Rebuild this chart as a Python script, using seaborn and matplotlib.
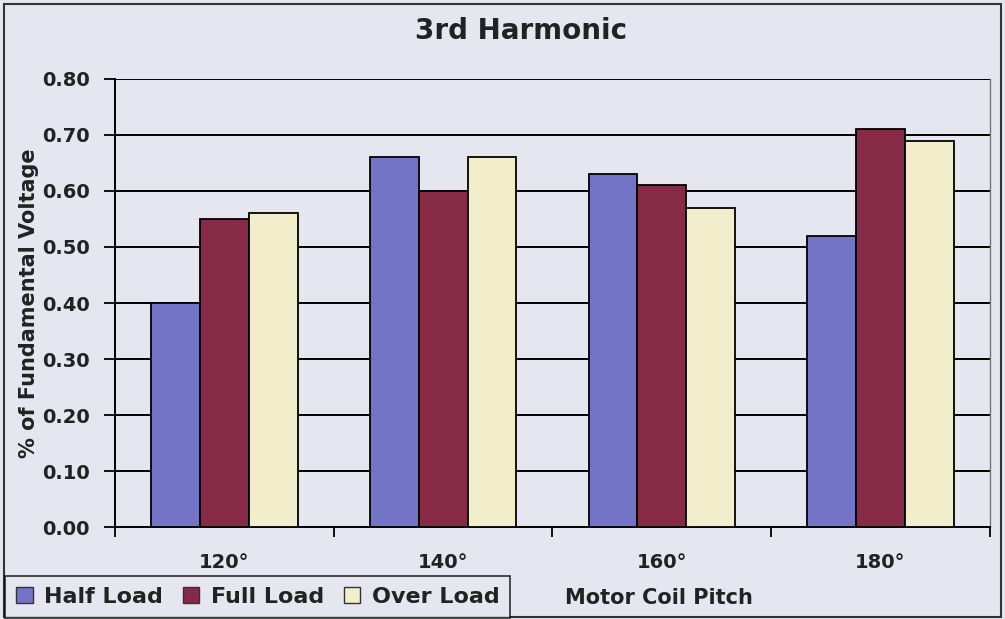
import matplotlib
matplotlib.use("Agg")
import matplotlib.pyplot as plt
import seaborn as sns
import pandas as pd
import numpy as np
from matplotlib.patches import Rectangle

# Coil pitch categories and 3rd harmonic content per load condition
pitches = ["120°", "140°", "160°", "180°"]
half_load = [0.40, 0.66, 0.63, 0.52]
full_load = [0.55, 0.60, 0.61, 0.71]
over_load = [0.56, 0.66, 0.57, 0.69]
series_names = ["Half Load", "Full Load", "Over Load"]
y_ticks = [0.0, 0.1, 0.2, 0.3, 0.4, 0.5, 0.6, 0.7, 0.8]

df = pd.DataFrame({
    "pitch": pitches * 3,
    "value": half_load + full_load + over_load,
    "load": [n for n in series_names for _ in pitches],
})

bg = "#E6E6F1"
ink = "#222222"
colors = ["#7474C6", "#862A48", "#F2EDCB"]

sns.set_theme(style="white")
plt.rcParams["font.family"] = ["DejaVu Sans"]

fig = plt.figure(figsize=(10.05, 6.19), dpi=100, facecolor=bg)
ax = fig.add_axes([0.1144, 0.1486, 0.8706, 0.7238])
ax.set_facecolor(bg)

sns.barplot(data=df, x="pitch", y="value", hue="load", order=pitches,
            hue_order=series_names, palette=colors, width=0.67, gap=0,
            edgecolor="black", linewidth=1.3, saturation=1, ax=ax,
            legend=False, zorder=3)

ax.set_ylim(0, 0.8)
ax.set_xlim(-0.5, 3.5)
ax.set_yticks(y_ticks)
ax.set_yticklabels([f"{v:.2f}" for v in y_ticks], fontsize=14, fontweight="bold",
                   color=ink)
ax.yaxis.grid(True, color="black", linewidth=1.4, zorder=0)
ax.set_axisbelow(True)

# category labels centred, tick marks on the category boundaries
ax.set_xticks(range(len(pitches)))
ax.set_xticklabels(pitches, fontsize=14, fontweight="bold", color=ink)
ax.set_xticks(np.arange(-0.5, len(pitches), 1.0), minor=True)
ax.tick_params(axis="x", which="major", length=0, pad=19)
ax.tick_params(axis="x", which="minor", length=7, width=1.3, color="black",
               direction="out", bottom=True)
ax.tick_params(axis="y", length=8, width=1.3, color="black", direction="out",
               left=True, pad=10)

for side in ["left", "bottom"]:
    ax.spines[side].set_color("black")
    ax.spines[side].set_linewidth(1.4)
ax.spines["top"].set_visible(False)
ax.spines["right"].set_color("#777777")
ax.spines["right"].set_linewidth(1.0)

ax.set_xlabel("")
ax.set_ylabel("% of Fundamental Voltage", fontsize=15, fontweight="bold", color=ink)
ax.yaxis.set_label_coords(-0.087, 0.5)

fig.text(0.518, 0.95, "3rd Harmonic", ha="center", va="center",
         fontsize=20, fontweight="bold", color=ink)
fig.text(0.656, 0.034, "Motor Coil Pitch", ha="center", va="center",
         fontsize=15, fontweight="bold", color=ink)

handles = [Rectangle((0, 0), 1, 1, facecolor=c, edgecolor="#333333", linewidth=1)
           for c in colors]
leg = fig.legend(handles, series_names, loc="lower left",
                 bbox_to_anchor=(0.005, 0.002), borderaxespad=0, ncol=3,
                 frameon=True, fancybox=False, handlelength=0.75,
                 handleheight=0.75, handletextpad=0.5, columnspacing=0.9,
                 borderpad=0.5, prop={"size": 16, "weight": "bold"})
leg.get_frame().set_edgecolor("black")
leg.get_frame().set_linewidth(1.2)
leg.get_frame().set_facecolor(bg)
for t in leg.get_texts():
    t.set_color(ink)

# outer chart border
fig.patches.append(Rectangle((0.004, 0.004), 0.992, 0.99, transform=fig.transFigure,
                             fill=False, edgecolor="#333333", linewidth=1.5))

fig.savefig("out.png", dpi=100, facecolor=bg)
